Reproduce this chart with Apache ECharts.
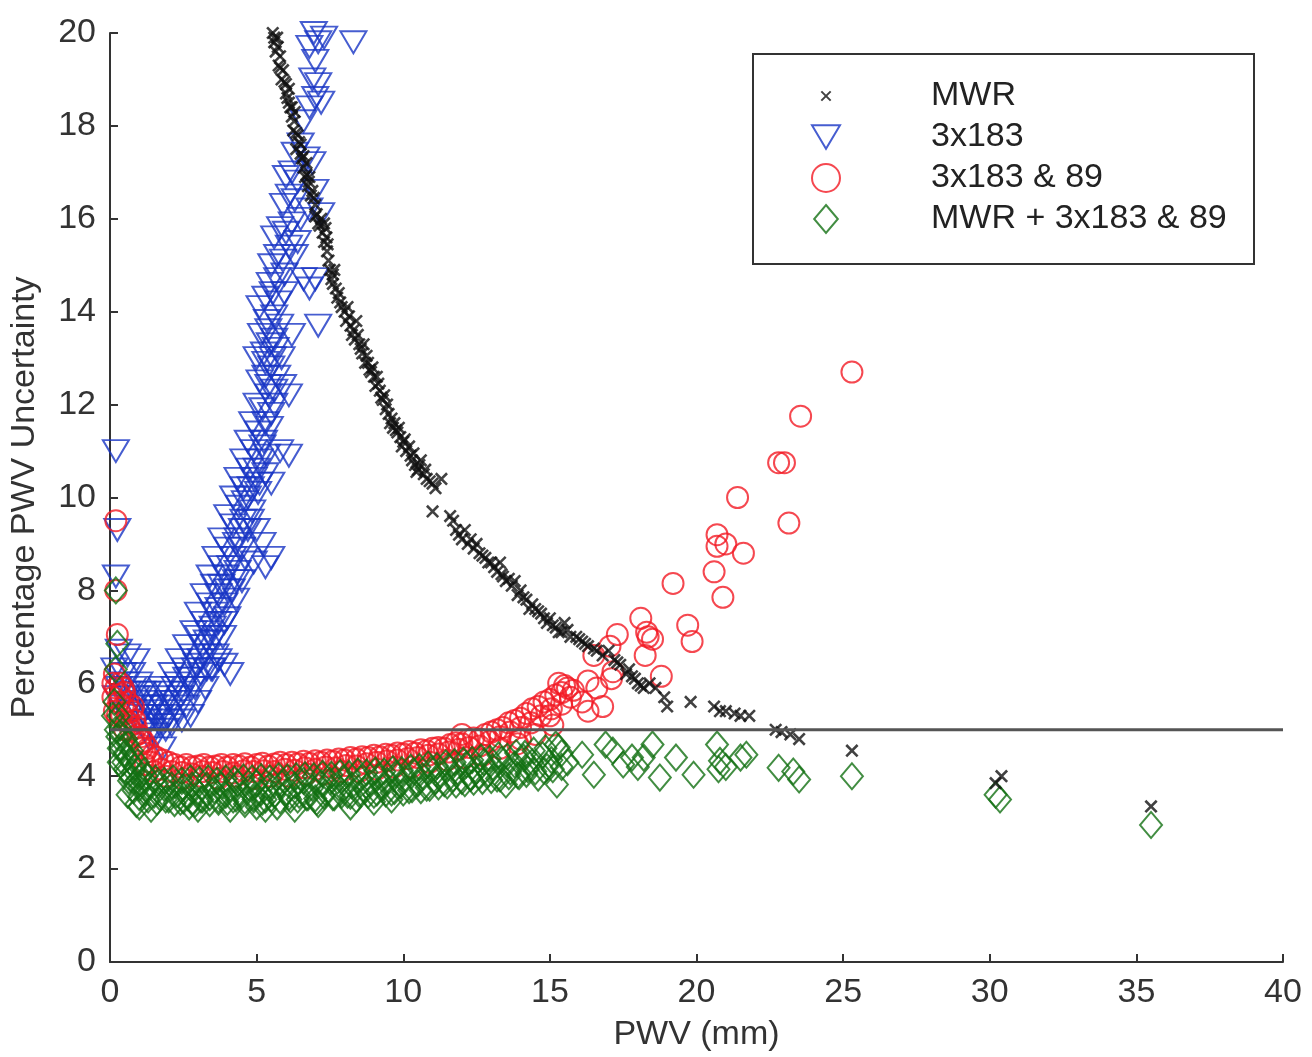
<!DOCTYPE html>
<html>
<head>
<meta charset="utf-8">
<script src="https://cdn.jsdelivr.net/npm/echarts@6/dist/echarts.min.js"></script>
<style>
html,body{margin:0;padding:0;background:#fff;}
#chart{width:1312px;height:1057px;}
</style>
</head>
<body>
<div id="chart"></div>
<script>
// ---- Data ----
const seriesNames = ['MWR', '3x183', '3x183 & 89', 'MWR + 3x183 & 89'];
const xTicks = [0, 5, 10, 15, 20, 25, 30, 35, 40];
const yTicks = [0, 2, 4, 6, 8, 10, 12, 14, 16, 18, 20];
const thresholdLine = [[0, 5], [40, 5]];

const mwrPoints = [
[5.55,20.0],[5.6,19.8],[5.7,19.9],[5.65,19.6],[5.8,19.5],[5.75,19.3],[5.9,19.2],[5.85,19.0],[6.0,18.9],[6.05,18.6],
[6.1,18.8],[6.15,18.4],[6.2,18.2],[6.3,18.3],[6.25,17.9],[6.4,17.8],[6.35,17.5],[6.5,17.6],[6.55,17.3],[6.6,17.1],
[6.7,17.2],[6.65,16.9],[6.75,16.7],[6.8,16.9],[6.85,16.5],[6.9,16.6],[7.0,16.3],[7.05,16.1],[7.1,15.9],[7.2,16.0],
[7.25,15.7],[7.3,15.5],[7.35,15.8],[7.4,15.3],[7.45,15.1],[7.5,14.9],[7.55,14.7],[7.6,14.8],[7.7,14.5],[7.75,14.3],
[7.8,14.4],[7.9,14.1],[8.0,14.0],[8.05,13.8],[8.1,14.1],[8.2,13.7],[8.3,13.6],[8.35,13.4],[8.4,13.8],[8.5,13.3],
[8.6,13.1],[8.65,13.3],[8.7,12.9],[8.8,12.9],[8.9,12.7],[9.0,12.6],[9.05,12.4],[9.1,12.6],[9.2,12.3],[9.3,12.1],
[9.35,12.2],[9.4,11.9],[9.5,11.8],[9.6,11.7],[9.65,11.5],[9.7,11.6],[9.8,11.4],[9.9,11.3],[10.0,11.2],[10.1,11.0],
[10.2,11.1],[10.3,10.8],[10.4,10.7],[10.5,10.6],[10.6,10.8],[10.7,10.5],[10.8,10.4],[11.0,10.3],[11.1,10.2],[11.3,10.4],
[11.0,9.7],[11.6,9.6],[11.7,9.5],[11.8,9.3],[11.9,9.2],[12.0,9.1],[12.1,9.3],[12.2,9.0],[12.4,8.9],[12.5,9.0],
[12.6,8.8],[12.8,8.7],[13.0,8.6],[13.1,8.5],[13.2,8.4],[13.3,8.6],[13.4,8.3],[13.5,8.2],[13.7,8.1],[13.8,8.2],
[13.9,7.9],[14.0,8.0],[14.2,7.8],[14.3,7.6],[14.4,7.7],[14.5,7.6],[14.7,7.5],[14.9,7.3],[15.0,7.4],[15.2,7.2],
[15.4,7.1],[15.5,7.3],[15.7,7.0],[15.9,7.0],[16.1,6.9],[16.3,6.8],[16.6,6.7],[16.8,6.6],[17.0,6.7],[17.2,6.5],
[17.4,6.4],[17.6,6.2],[17.7,6.3],[17.9,6.1],[18.0,6.0],[18.2,5.9],[18.6,5.9],[18.9,5.7],[19.0,5.5],[19.8,5.6],
[20.6,5.5],[20.8,5.4],[21.0,5.4],[21.3,5.35],[21.5,5.3],[21.8,5.3],[22.7,5.0],[22.9,4.95],[23.2,4.9],[23.5,4.8],
[25.3,4.55],[30.2,3.85],[30.4,4.0],[35.5,3.35],
[5.6,19.9],[5.72,19.7],[5.8,19.25],[5.95,18.95],[6.0,18.7],[6.1,18.5],[6.2,18.4],[6.28,18.1],[6.35,17.85],[6.45,17.65],
[6.5,17.4],[6.6,17.35],[6.7,16.95],[6.78,16.8],[6.95,16.45],[7.0,16.05],[7.15,15.85],[7.3,15.9],[7.38,15.6],[7.42,15.45],
[7.6,14.6],[7.65,14.9],[7.85,14.2],[8.15,13.9],[8.25,13.5],[8.45,13.5],[8.55,13.2],[8.75,13.05],[8.85,12.75],[8.95,12.8],
[9.15,12.45],[9.25,12.15],[9.45,12.0],[9.55,11.6],[9.75,11.45],[9.85,11.5],[9.95,11.1],[10.05,11.25],[10.25,10.9],[10.35,10.95],
[10.45,10.55],[10.55,10.7],[10.75,10.6],[10.9,10.35],[12.3,9.1],[12.7,8.75],[12.9,8.6],[13.35,8.35],[13.6,8.25],[14.1,7.85],
[14.6,7.55],[14.8,7.4],[15.1,7.25],[15.3,7.1],[15.6,7.15],[16.0,6.95],[16.2,6.85],[16.5,6.75],[17.3,6.45],[17.8,6.15],
[18.4,6.0],[18.1,5.95]
];

const tri183Points = [
[0.2,11.0],[0.25,9.3],[0.2,8.3],[0.3,6.7],[0.6,6.6],[0.9,6.5],[0.15,6.3],[0.45,6.2],[0.75,6.2],[1.0,6.0],
[0.3,5.9],[0.6,5.8],[0.9,5.7],[1.15,5.6],[0.4,5.5],[0.75,5.4],[1.05,5.3],[1.3,5.2],[1.25,5.5],[1.45,5.0],
[1.6,4.9],[1.8,4.6],[1.4,5.4],[1.55,5.3],[1.7,5.1],[1.9,5.0],[1.6,5.7],[1.8,5.5],[2.0,5.3],[2.1,5.1],
[1.75,5.9],[1.95,5.8],[2.15,5.6],[2.3,5.4],[2.45,5.2],[2.1,6.2],[2.3,6.0],[2.5,5.8],[2.6,5.5],[2.75,5.3],
[2.35,6.5],[2.55,6.3],[2.7,6.1],[2.9,5.9],[3.0,5.6],[2.6,6.8],[2.8,6.6],[2.95,6.4],[3.1,6.2],[3.25,5.9],
[2.85,7.1],[3.0,7.0],[3.15,6.8],[3.3,6.6],[3.45,6.3],[3.0,7.5],[3.2,7.3],[3.35,7.1],[3.5,6.9],[3.6,6.6],
[3.2,7.9],[3.4,7.7],[3.55,7.5],[3.7,7.3],[3.85,7.0],[3.5,6.3],[3.7,6.5],[3.9,6.4],[4.1,6.2],[3.4,8.3],
[3.55,8.1],[3.7,7.9],[3.9,7.7],[4.0,7.4],[3.6,8.7],[3.8,8.5],[3.95,8.3],[4.15,8.0],[4.3,7.8],[3.8,9.1],
[4.0,8.9],[4.2,8.7],[4.35,8.4],[4.5,8.2],[4.0,9.6],[4.2,9.4],[4.35,9.1],[4.5,8.9],[4.2,10.0],[4.4,9.8],
[4.55,9.5],[4.7,9.3],[4.35,10.4],[4.55,10.2],[4.7,10.0],[4.85,9.7],[5.0,9.3],[5.2,9.0],[5.3,8.5],[5.5,8.7],
[4.9,8.6],[4.55,10.8],[4.75,10.6],[4.9,10.4],[5.05,10.1],[4.7,11.2],[4.9,11.0],[5.1,10.8],[5.3,10.5],[5.5,10.3],
[5.8,11.0],[6.1,10.9],[4.85,11.6],[5.05,11.4],[5.25,11.2],[5.45,11.5],[5.0,12.0],[5.2,11.9],[5.4,12.2],[5.6,12.0],
[5.1,12.5],[5.3,12.6],[5.5,12.8],[5.7,12.6],[5.9,12.4],[5.0,13.0],[5.25,13.1],[5.45,13.3],[5.65,13.2],[5.85,13.0],
[5.15,13.5],[5.4,13.6],[5.6,13.4],[6.2,13.5],[6.1,12.2],[7.1,13.7],[5.1,14.1],[5.3,14.3],[5.55,14.4],[5.75,14.2],
[5.95,14.4],[6.6,14.7],[7.0,14.7],[6.8,14.5],[5.5,15.0],[5.7,15.2],[5.9,15.1],[5.6,15.6],[5.8,15.8],[6.0,15.7],
[6.2,15.9],[6.4,15.5],[6.5,16.0],[7.2,16.1],[5.9,16.3],[6.1,16.5],[6.3,16.4],[6.8,16.2],[7.0,16.6],[6.0,16.9],
[6.2,17.0],[6.4,16.8],[6.9,17.2],[6.3,17.4],[6.5,17.6],[6.7,17.3],[6.6,18.1],[6.8,18.4],[7.0,18.6],[7.2,18.5],
[7.1,18.9],[6.9,19.0],[7.0,19.4],[6.8,19.7],[7.1,19.8],[6.95,20.0],[7.3,19.9],[8.3,19.8],
[1.3,5.8],[1.5,5.5],[1.7,5.3],[1.9,5.2],[2.0,5.6],[2.2,5.9],[2.4,5.7],[2.6,6.1],[2.8,5.9],[2.9,6.3],
[3.1,6.5],[3.3,6.3],[3.3,6.9],[3.5,7.2],[3.6,7.0],[3.7,7.6],[3.9,7.3],[3.8,8.1],[4.0,8.0],[4.1,8.5],
[4.3,8.2],[4.3,9.0],[4.5,9.3],[4.6,8.7],[4.6,9.9],[4.8,10.2],[4.8,9.5],[5.0,10.6],[5.1,10.3],[5.2,11.1],
[5.35,10.9],[5.3,11.6],[5.5,11.8],[5.4,12.4],[5.6,12.3],[5.3,12.9],[5.55,13.0],[5.35,13.8],[5.6,13.9],[5.8,13.7],
[5.45,14.6],[5.7,14.7],[5.95,14.8],[6.3,15.2],[6.1,15.4],[0.5,6.0],[0.8,5.9],[1.1,5.8],[0.2,5.7],[0.55,5.35],
[0.95,5.15],[1.2,5.0],[1.35,4.8]
];

const circ18389Points = [
[0.2,9.5],[0.2,8.0],[0.25,7.05],[0.15,6.2],[0.2,5.9],[0.35,6.0],[0.5,5.8],[0.3,5.6],[0.45,5.5],[0.6,5.6],
[0.75,5.4],[0.25,5.3],[0.55,5.2],[0.85,5.2],[0.7,5.0],[0.95,4.9],[1.0,4.7],[1.1,4.6],[1.2,4.5],
[1.3,4.6],[1.45,4.45],[1.6,4.4],[1.8,4.35],[2.0,4.3],[2.2,4.25],[2.4,4.2],[2.6,4.25],[2.8,4.2],[3.0,4.22],
[3.2,4.25],[3.4,4.2],[3.6,4.22],[3.8,4.25],[4.0,4.2],[4.2,4.25],[4.4,4.22],[4.6,4.27],[4.8,4.2],[5.0,4.25],
[5.2,4.28],[5.4,4.22],[5.6,4.26],[5.8,4.3],[6.0,4.25],[6.2,4.3],[6.4,4.27],[6.6,4.32],[6.8,4.28],[7.0,4.33],
[7.2,4.3],[7.4,4.35],[7.6,4.32],[7.8,4.37],[8.0,4.35],[8.2,4.4],[8.4,4.37],[8.6,4.42],[8.8,4.4],[9.0,4.45],
[9.2,4.42],[9.4,4.47],[9.6,4.45],[9.8,4.5],[10.0,4.48],[10.2,4.53],[10.4,4.5],[10.6,4.57],[10.8,4.55],[11.0,4.6],
[11.2,4.62],[11.4,4.6],[11.6,4.68],[11.8,4.72],[12.0,4.7],[12.2,4.78],[12.4,4.82],[12.6,4.8],[12.8,4.9],[13.0,4.95],
[13.2,5.0],[13.4,5.05],[13.6,5.15],[13.8,5.2],[14.0,5.25],[14.2,5.35],[14.4,5.45],[14.6,5.5],[14.8,5.6],[15.0,5.65],
[15.2,5.75],[15.4,5.8],[15.6,5.9],[15.8,5.85],[15.3,6.0],[15.5,5.95],
[1.2,4.25],[1.5,4.1],[1.9,4.0],[2.5,3.95],[3.1,4.0],[3.7,3.95],[4.3,4.0],[4.9,3.95],[5.5,4.0],[6.1,4.0],
[6.7,4.05],[7.3,4.05],[7.9,4.1],[8.5,4.1],[9.1,4.15],[9.7,4.2],[10.3,4.2],[10.9,4.3],[11.5,4.35],[12.1,4.4],
[12.7,4.45],[13.3,4.6],[13.9,4.7],[14.5,4.9],[15.1,5.1],[14.0,4.8],[15.0,5.3],[12.0,4.9],
[1.4,4.3],[1.75,4.15],[2.1,4.1],[2.45,4.08],[2.8,4.05],[3.15,4.1],[3.5,4.08],[3.85,4.1],[4.2,4.07],[4.55,4.12],
[4.9,4.1],[5.25,4.12],[5.6,4.1],[5.95,4.15],[6.3,4.13],[6.65,4.18],[7.0,4.15],[7.35,4.2],[7.7,4.18],[8.05,4.23],
[8.4,4.22],[8.75,4.27],[9.1,4.3],[9.45,4.33],[9.8,4.35],[10.15,4.38],[10.5,4.4],[10.85,4.45],[11.2,4.48],[11.55,4.52],
[11.9,4.58],[12.25,4.62],[12.6,4.65],[12.95,4.75],[13.3,4.85],[13.65,4.95],[14.0,5.05],[14.35,5.15],[14.7,5.3],[15.05,5.45],
[15.4,5.55],[15.7,5.7],
[0.1,5.7],[0.15,5.4],[0.4,5.3],[0.6,5.35],[0.8,5.5],[0.35,5.75],[0.65,5.15],[0.9,5.05],[1.05,4.85],[0.5,5.0],
[0.8,4.85],[1.15,4.75],[0.1,6.0],[0.45,5.9],
[16.1,5.6],[16.3,5.4],[16.8,5.5],[16.3,6.05],[16.5,6.6],[16.6,5.9],[17.05,6.8],[17.15,6.25],[17.3,7.05],[17.1,6.1],
[18.1,7.4],[18.3,7.1],[18.5,6.95],[18.35,7.0],[18.25,6.6],[18.8,6.15],[19.2,8.15],[19.7,7.25],[19.85,6.9],[20.6,8.4],
[20.7,9.2],[20.7,8.95],[21.0,9.0],[21.6,8.8],[20.9,7.85],[21.4,10.0],[22.8,10.75],[23.0,10.75],[23.15,9.45],[23.55,11.75],
[25.3,12.7]
];

const diaCombinedPoints = [
[0.2,8.0],[0.25,6.85],[0.2,6.3],[0.15,5.6],[0.3,5.3],[0.2,5.0],[0.4,4.9],[0.3,4.6],[0.5,4.5],[0.6,4.7],
[0.45,4.3],[0.7,4.3],[0.55,4.1],[0.8,4.1],[0.65,3.9],[0.9,3.9],[0.8,3.7],[1.0,3.75],[1.1,3.9],[1.2,3.65],
[0.9,3.4],[1.35,3.8],[1.5,3.6],[1.6,3.85],[1.7,3.55],[1.85,3.75],[2.0,3.5],[2.1,3.8],[2.25,3.6],[2.4,3.45],
[2.5,3.75],[2.65,3.55],[2.8,3.8],[2.9,3.4],[3.0,3.65],[3.15,3.5],[3.3,3.8],[3.4,3.55],[3.55,3.7],[3.7,3.45],
[3.8,3.8],[3.95,3.6],[4.1,3.75],[4.2,3.5],[4.35,3.85],[4.5,3.6],[4.6,3.4],[4.75,3.75],[4.9,3.55],[5.0,3.85],
[5.15,3.65],[5.3,3.5],[5.45,3.8],[5.6,3.6],[5.7,3.35],[5.85,3.85],[6.0,3.65],[6.15,3.5],[6.3,3.8],[6.45,3.6],
[6.6,3.9],[6.75,3.55],[6.9,3.75],[7.05,3.45],[7.2,3.85],[7.35,3.65],[7.5,3.9],[7.65,3.55],[7.8,3.75],[7.95,3.95],
[8.1,3.6],[8.25,3.8],[8.4,3.5],[8.55,3.95],[8.7,3.7],[8.85,3.85],[9.0,3.6],[9.15,4.0],[9.3,3.75],[9.45,3.9],
[9.6,3.65],[9.75,4.05],[9.9,3.8],[10.05,3.95],[10.2,3.7],[10.35,4.1],[10.5,3.85],[10.65,4.0],[10.8,3.75],[10.95,4.15],
[11.1,3.9],[11.25,4.05],[11.4,3.85],[11.55,4.2],[11.7,3.95],[11.85,4.1],[12.0,3.9],[12.15,4.25],[12.3,3.97],[12.45,4.15],
[12.6,4.0],[12.75,4.3],[12.9,4.05],[13.05,4.2],[13.2,3.95],[13.35,4.35],[13.5,3.82],[13.65,4.1],[13.8,4.25],[13.95,4.0],
[14.1,4.4],[14.25,4.15],[14.4,4.3],[14.6,3.97],[14.75,4.45],[14.9,4.2],[15.05,4.35],[15.24,3.82],[15.2,4.68],[15.4,4.5],
[15.6,4.3],
[1.0,3.35],[1.4,3.3],[2.7,3.35],[3.0,3.3],[4.1,3.3],[5.0,3.35],[5.3,3.3],[6.3,3.3],[7.1,3.4],[8.2,3.35],
[9.0,3.45],[9.6,3.5],[12.3,3.97],
[1.25,4.0],[1.55,3.95],[1.85,3.9],[2.15,3.95],[2.45,3.9],[2.75,3.95],[3.05,3.92],[3.35,3.95],[3.65,3.9],[3.95,3.95],
[4.25,3.93],[4.55,3.97],[4.85,3.95],[5.15,3.98],[5.45,3.95],[5.75,4.0],[6.05,3.97],[6.35,4.0],[6.65,4.02],[6.95,4.0],
[7.25,4.05],[7.55,4.03],[7.85,4.07],[8.15,4.05],[8.45,4.1],[8.75,4.08],[9.05,4.12],[9.35,4.1],[9.65,4.15],[9.95,4.13],
[10.25,4.18],[10.55,4.2],[10.85,4.25],[11.15,4.22],[11.45,4.28],[11.75,4.3],[12.05,4.33],[12.35,4.35],[12.65,4.4],[12.95,4.38],
[13.25,4.45],[13.55,4.42],[13.85,4.5],[14.15,4.48],[14.45,4.55],[14.85,4.6],[15.3,4.62],
[1.3,3.5],[1.6,3.45],[1.9,3.5],[2.2,3.42],[2.5,3.48],[2.8,3.45],[3.1,3.5],[3.4,3.42],[3.7,3.5],[4.0,3.45],
[4.3,3.52],[4.6,3.47],[4.9,3.5],[5.2,3.45],[5.5,3.52],[5.8,3.48],[6.1,3.55],[6.4,3.5],[6.7,3.55],[7.0,3.52],
[7.3,3.58],[7.6,3.55],[7.9,3.6],[8.2,3.58],[8.5,3.62],[8.8,3.6],[9.1,3.65],[9.4,3.63],[9.7,3.68],[10.0,3.65],
[10.3,3.72],[10.6,3.7],[10.9,3.75],[11.2,3.78],[11.5,3.8],[11.8,3.82],[12.1,3.85],[12.4,3.88],[12.7,3.9],[13.0,3.92],
[13.3,3.95],[13.6,4.0],[13.9,4.02],[14.2,4.05],[14.5,4.1],[14.8,4.12],[15.1,4.15],[15.4,4.2],
[0.1,5.3],[0.35,5.05],[0.55,4.8],[0.75,4.55],[0.95,4.3],[1.15,4.1],[0.25,4.85],[0.4,4.6],[0.6,4.4],[0.85,4.2],
[1.05,4.0],[0.3,4.3],[0.5,4.15],[0.7,3.95],[1.0,3.55],[0.6,3.6],
[16.1,4.46],[16.5,4.03],[16.9,4.68],[17.15,4.55],[17.5,4.25],[17.8,4.4],[18.0,4.2],[18.5,4.68],[18.75,3.97],[18.2,4.4],
[19.3,4.4],[19.9,4.03],[20.7,4.68],[20.8,4.33],[20.75,4.15],[21.5,4.4],[21.7,4.46],[21.0,4.2],[22.8,4.18],[23.3,4.1],
[23.5,3.93],[25.3,4.0],[30.2,3.6],[30.35,3.5],[35.5,2.95]
];

// ---- Styles ----
const FONT = '"Liberation Sans", Arial, Helvetica, sans-serif';
const BLUE = '#1835c4', RED = '#f21a24', GREEN = '#137013', BLACK = '#111111';
const SYM_X = 'path://M0,0M30,30M10,10L20,20M20,10L10,20';
const SYM_TRI = 'path://M0,0L26,0L13,22Z';
const SYM_DIA = 'path://M11,0L22,13L11,26L0,13Z';

const chart = echarts.init(document.getElementById('chart'), null, {renderer: 'canvas'});

const option = {
  backgroundColor: '#ffffff',
  animation: false,
  grid: {left: 110, right: 29, top: 33, bottom: 92, containLabel: false},
  xAxis: {
    type: 'value', min: 0, max: 40, interval: 5,
    name: 'PWV (mm)', nameLocation: 'middle', nameGap: 56,
    nameTextStyle: {fontSize: 34, color: '#333', fontFamily: FONT},
    axisLine: {show: true, lineStyle: {color: '#333', width: 2}},
    axisTick: {show: true, inside: true, length: 8, lineStyle: {color: '#333', width: 2}},
    axisLabel: {fontSize: 34, color: '#333', fontFamily: FONT, margin: 14,
      formatter: v => (xTicks.indexOf(v) >= 0 ? String(v) : '')},
    splitLine: {show: false}
  },
  yAxis: {
    type: 'value', min: 0, max: 20, interval: 2,
    name: 'Percentage PWV Uncertainty', nameLocation: 'middle', nameGap: 68,
    nameTextStyle: {fontSize: 34, color: '#333', fontFamily: FONT},
    axisLine: {show: true, lineStyle: {color: '#333', width: 2}},
    axisTick: {show: true, inside: true, length: 8, lineStyle: {color: '#333', width: 2}},
    axisLabel: {fontSize: 34, color: '#333', fontFamily: FONT, margin: 14,
      formatter: v => (yTicks.indexOf(v) >= 0 ? String(v) : '')},
    splitLine: {show: false}
  },
  graphic: [{
    type: 'rect', z: 1, left: 752, top: 53,
    shape: {width: 501, height: 210},
    style: {fill: '#fff', stroke: '#333', lineWidth: 2}
  }],
  legend: {
    z: 10, orient: 'vertical', left: 806, top: 74,
    itemWidth: 28, itemHeight: 28, itemGap: 7,
    selectedMode: false,
    data: seriesNames,
    formatter: n => '{sp| }{t|' + n + '}',
    textStyle: {
      fontSize: 34, color: '#222', fontFamily: FONT,
      rich: {sp: {width: 86, fontSize: 34}, t: {fontSize: 34, color: '#222', fontFamily: FONT}}
    }
  },
  series: [
    {
      name: seriesNames[1], type: 'scatter', data: tri183Points,
      symbol: SYM_TRI, symbolSize: [26, 22],
      itemStyle: {color: 'rgba(0,0,0,0)', borderColor: BLUE, borderWidth: 2},
      z: 2
    },
    {
      name: seriesNames[2], type: 'scatter', data: circ18389Points,
      symbol: 'circle', symbolSize: 21,
      itemStyle: {color: 'rgba(0,0,0,0)', borderColor: RED, borderWidth: 2},
      z: 3
    },
    {
      name: seriesNames[3], type: 'scatter', data: diaCombinedPoints,
      symbol: SYM_DIA, symbolSize: [22, 26],
      itemStyle: {color: 'rgba(0,0,0,0)', borderColor: GREEN, borderWidth: 2},
      z: 4
    },
    {
      name: seriesNames[0], type: 'scatter', data: mwrPoints,
      symbol: SYM_X, symbolSize: 34,
      itemStyle: {color: 'rgba(0,0,0,0)', borderColor: BLACK, borderWidth: 2.6},
      z: 5
    },
    {
      name: 'threshold', type: 'line', data: thresholdLine,
      symbol: 'none', silent: true, z: 6,
      lineStyle: {color: '#555', width: 3}
    }
  ]
};
chart.setOption(option);
</script>
</body>
</html>
